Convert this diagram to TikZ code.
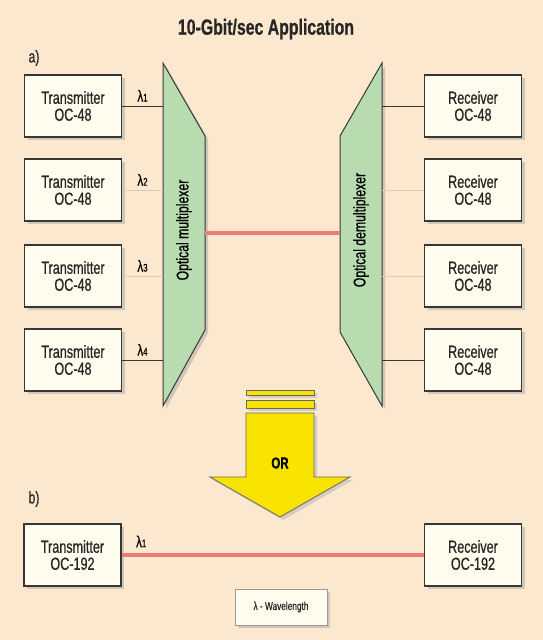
\documentclass[tikz,border=0pt]{standalone}
\usepackage{fontspec}
\setmainfont{Liberation Sans}
\newfontfamily\condfont{Liberation Sans}[FakeStretch=0.72, FakeBold=0.6]
\usepackage{tikz}
\usetikzlibrary{arrows.meta, positioning, shadows, calc}

\definecolor{paper}{RGB}{252,232,207}
\definecolor{boxfill}{RGB}{254,252,236}
\definecolor{muxgreen}{RGB}{184,220,176}
\definecolor{fiberred}{RGB}{232,126,116}
\definecolor{arrowyellow}{RGB}{248,228,0}
\definecolor{inkgray}{RGB}{55,55,55}
\definecolor{faintline}{RGB}{222,203,178}

\begin{document}
\begin{tikzpicture}[x=1pt, y=-1pt,
  unit/.style={rectangle, draw=inkgray, line width=1.1pt, fill=boxfill, minimum width=97pt, minimum height=62pt, align=center, text=black!85, font=\condfont\fontsize{17.5}{17}\selectfont, drop shadow={shadow xshift=3pt, shadow yshift=-3pt, fill=black!35}},
  mux/.style={draw=inkgray, line width=1pt, fill=muxgreen, drop shadow={shadow xshift=3pt, shadow yshift=-3pt, fill=black!35}},
  arrowbox/.style={draw=black!60, line width=0.8pt, fill=arrowyellow, drop shadow={shadow xshift=3pt, shadow yshift=-3pt, fill=black!30}},
  fiber/.style={draw=fiberred, line width=3.6pt},
  lam/.style={font=\condfont\fontsize{16}{16}\selectfont, inner sep=1pt},
  tag/.style={font=\condfont\fontsize{17}{17}\selectfont, text=black!85}
]
  \useasboundingbox (0,0) rectangle (543,640);
  \fill[paper] (0,0) rectangle (543,640);

  \node[font=\condfont\bfseries\fontsize{22}{22}\selectfont, text=black!85] (title) at (266,29) {10-Gbit/sec Application};
  \node[tag] (parta) at (34,58) {a)};
  \node[tag] (partb) at (34,499) {b)};

  % multiplexer and demultiplexer
  \filldraw[mux] (163,63) -- (205,136) -- (205,330) -- (163,406) -- cycle;
  \filldraw[mux] (382,63) -- (340,136) -- (340,332) -- (382,406) -- cycle;
  \coordinate (muxW) at (163,0);
  \coordinate (muxE) at (205,233);
  \coordinate (demuxW) at (340,233);
  \coordinate (demuxE) at (382,0);
  \node[rotate=90, font=\condfont\fontsize{17}{17}\selectfont] (muxtext) at (184,230) {Optical multiplexer};
  \node[rotate=90, font=\condfont\fontsize{17}{17}\selectfont] (demuxtext) at (361,230) {Optical demultiplexer};
  \draw[fiber] (muxE) -- (demuxW);

  \foreach \i/\y in {1/106, 2/190, 3/276, 4/360}{
    \node[unit] (T\i) at (73,\y) {Transmitter\\OC-48};
    \node[unit] (R\i) at (473,\y) {Receiver\\OC-48};
  }
  \foreach \i/\c/\w in {1/inkgray/0.9, 2/faintline/0.7, 3/faintline/0.7, 4/inkgray/0.9}{
    \draw[draw=\c, line width=\w pt] (T\i.east) -- (T\i.east -| muxW)
      node[lam, midway, above=3pt] {λ{\fontsize{11}{11}\selectfont\i}};
    \draw[draw=\c, line width=\w pt] (R\i.west) -- (R\i.west -| demuxE);
  }

  % the big arrow
  \filldraw[arrowbox] (246,390) rectangle (314,395);
  \filldraw[arrowbox] (246,400) rectangle (314,408);
  \filldraw[arrowbox] (246,413) -- (314,413) -- (314,477) -- (350,477) -- (280,517) -- (210,477) -- (246,477) -- cycle;
  \node[font=\condfont\bfseries\fontsize{16}{16}\selectfont] (ortext) at (280,463) {OR};

  % b) single channel
  \node[unit] (T5) at (72.5,555) {Transmitter\\OC-192};
  \node[unit] (R5) at (473,555) {Receiver\\OC-192};
  \draw[fiber] (T5) -- (R5) node[lam, pos=0.065, above=5pt] {λ{\fontsize{11}{11}\selectfont 1}};

  \node[unit, minimum width=92pt, minimum height=36pt, draw=black!40, line width=0.8pt, font=\condfont\fontsize{11.5}{11.5}\selectfont] (key) at (281,607) {λ - Wavelength};
\end{tikzpicture}
\end{document}
